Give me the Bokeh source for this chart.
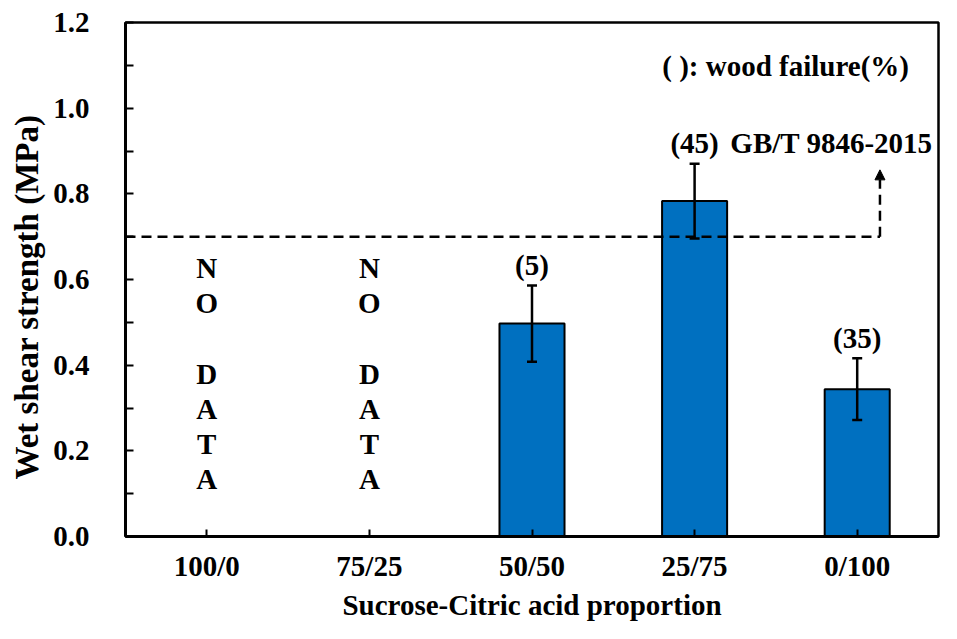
import math
from bokeh.plotting import figure
from bokeh.models import (Range1d, FixedTicker, Whisker, ColumnDataSource, Title,
                          Arrow, NormalHead, TeeHead, PrintfTickFormatter)
from bokeh.core.properties import value
from bokeh.embed import file_html
from bokeh.resources import INLINE

# ---- data ----
categories = ["100/0", "75/25", "50/50", "25/75", "0/100"]
strength = [None, None, 0.497, 0.783, 0.344]
errors = [None, None, 0.089, 0.087, 0.072]
wood_failure = [None, None, "(5)", "(45)", "(35)"]
y_ticks = [0.0, 0.2, 0.4, 0.6, 0.8, 1.0, 1.2]
y_minor = [0.1, 0.3, 0.5, 0.7, 0.9, 1.1]
standard_value = 0.7
standard_label = "GB/T 9846-2015"
note_text = "( ): wood failure(%)"
no_data_text = "N\nO\n\nD\nA\nT\nA"
x_title = "Sucrose-Citric acid proportion"
y_title = "Wet shear strength (MPa)"

FONT = value("Liberation Serif")
FS = "29px"
BLUE = "#0070C0"

pos = [i + 0.5 for i in range(len(categories))]
have = [i for i, v in enumerate(strength) if v is not None]
missing = [i for i, v in enumerate(strength) if v is None]

p = figure(width=941, height=623, output_backend="svg", toolbar_location=None,
           x_range=Range1d(0, len(categories)), y_range=Range1d(0, 1.2),
           min_border_left=125, min_border_right=3, min_border_top=22, min_border_bottom=87)
p.xgrid.visible = False
p.ygrid.visible = False
p.outline_line_color = "black"
p.outline_line_width = 2.5
p.background_fill_color = "white"
p.border_fill_color = "white"

bars = ColumnDataSource(dict(
    x=[pos[i] for i in have],
    top=[strength[i] for i in have],
    upper=[strength[i] + errors[i] for i in have],
    lower=[strength[i] - errors[i] for i in have],
    lab=[wood_failure[i] for i in have],
    laby=[strength[i] + errors[i] + 0.048 for i in have],
))
p.vbar(x="x", top="top", width=0.4, source=bars, fill_color=BLUE,
       line_color="black", line_width=2)

wh = Whisker(source=bars, base="x", upper="upper", lower="lower",
             line_color="black", line_width=2.5, level="overlay",
             upper_head=TeeHead(size=10, line_width=2.5, line_color="black"),
             lower_head=TeeHead(size=10, line_width=2.5, line_color="black"))
p.add_layout(wh)

p.text(x="x", y="laby", text="lab", source=bars, text_font=FONT, text_font_style="bold",
       text_font_size=FS, text_align="center", text_baseline="middle", text_color="black")

# NO DATA markers
p.text(x=[pos[i] for i in missing], y=[0.38] * len(missing), text=[no_data_text] * len(missing),
       text_font=FONT, text_font_style="bold", text_font_size=FS, text_align="center",
       text_baseline="middle", text_line_height=1.10, text_color="black")

# standard threshold line with arrow
arrow_x = 4.64
p.line(x=[0, arrow_x], y=[standard_value, standard_value], line_color="black",
       line_width=2.5, line_dash="10 6")
p.add_layout(Arrow(x_start=arrow_x, y_start=standard_value, x_end=arrow_x, y_end=0.856,
                   line_color="black", line_width=2.5, line_dash="10 6",
                   end=NormalHead(size=10, fill_color="black", line_color="black", line_width=1)))

p.text(x=[3.72], y=[strength[3] + errors[3] + 0.048], text=[standard_label], text_font=FONT,
       text_font_style="bold", text_font_size=FS, text_align="left", text_baseline="middle")
p.text(x=[4.06], y=[1.099], text=[note_text], text_font=FONT,
       text_font_style="bold", text_font_size=FS, text_align="center", text_baseline="middle")

# axes
xa = p.xaxis[0]
xa.ticker = FixedTicker(ticks=pos)
xa.major_label_overrides = {pos[i]: categories[i] for i in range(len(categories))}
xa.axis_label = x_title
ya = p.yaxis[0]
ya.ticker = FixedTicker(ticks=y_ticks, minor_ticks=y_minor)
ya.formatter = PrintfTickFormatter(format="%.1f")

for ax in (xa, ya):
    ax.axis_line_width = 3
    ax.axis_line_color = "black"
    ax.major_tick_line_width = 2
    ax.minor_tick_line_width = 2
    ax.major_tick_out = 0
    ax.minor_tick_out = 0
    ax.major_label_text_font = "Liberation Serif"
    ax.major_label_text_font_style = "bold"
    ax.major_label_text_font_size = FS
    ax.major_label_text_color = "black"
    ax.axis_label_text_font = "Liberation Serif"
    ax.axis_label_text_font_style = "bold"
    ax.axis_label_text_font_size = FS
    ax.axis_label_text_color = "black"

xa.major_tick_in = 7
xa.minor_tick_in = 0
xa.major_label_standoff = 13
xa.axis_label_standoff = 4
ya.major_tick_in = 8
ya.minor_tick_in = 8
ya.major_label_standoff = 36

ytitle = Title(text=y_title, align="left", offset=57, standoff=12,
               text_font="Liberation Serif", text_font_style="bold", text_font_size="33px",
               text_color="black")
p.add_layout(ytitle, "left")

open("out.html", "w").write(file_html(p, INLINE))
